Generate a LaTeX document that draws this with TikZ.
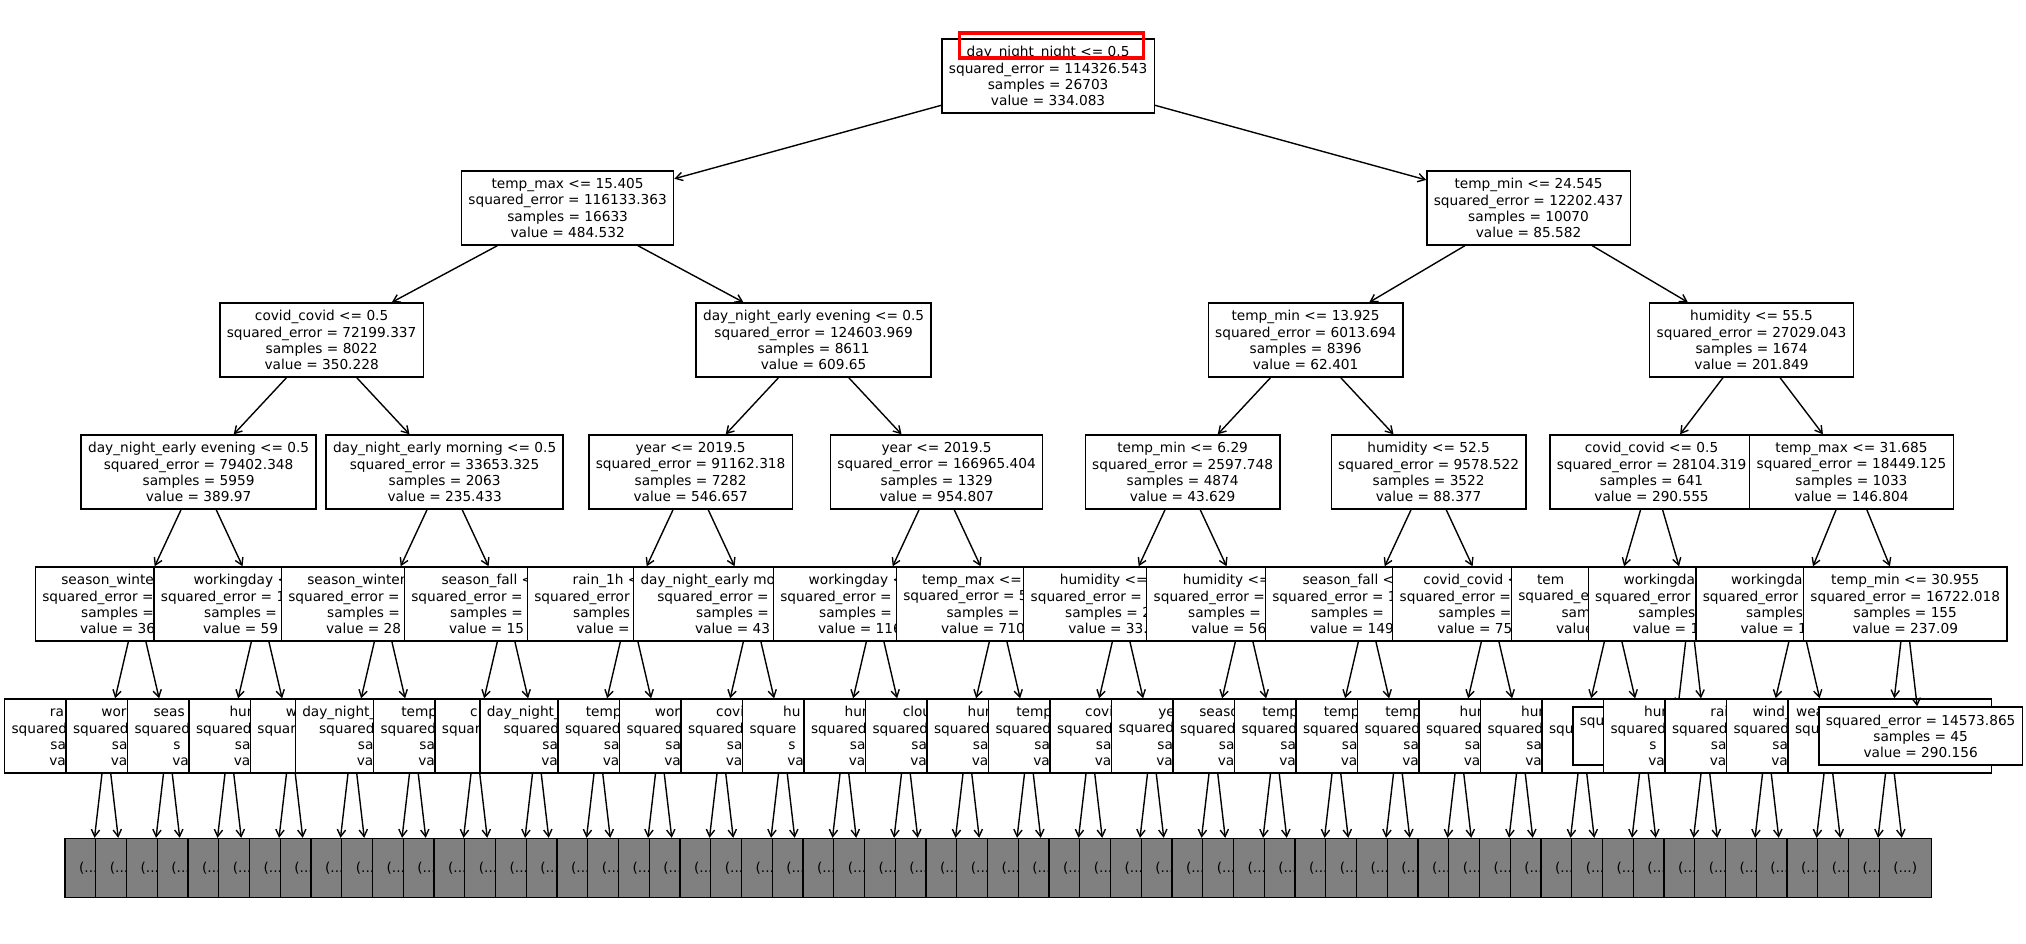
\documentclass[tikz,border=0pt]{standalone}
\usepackage{fontspec}
\setmainfont{DejaVu Sans}
\usetikzlibrary{calc,arrows.meta,backgrounds}
\newcommand{\hid}[1]{\phantom{#1}}

\begin{document}
\begin{tikzpicture}[x=0.72pt,y=-0.72pt,
  split/.style={draw=black,line width=1pt,fill=white,align=center,inner xsep=5pt,inner ysep=0pt,minimum height=53.3pt,font=\fontsize{9.86}{11.6}\selectfont},
  leaf/.style={split,minimum height=41.8pt},
  elided/.style={split,fill=gray,minimum width=37.4pt,minimum height=42.5pt,inner xsep=0pt},
  link/.style={-{Straight Barb[length=5pt,width=6pt]},line width=1pt},
  hl/.style={draw=red,line width=2.2pt}]
\useasboundingbox (0,0) rectangle (2026,944);

% pruned subtrees
\foreach \j in {1,...,60}
  \node[elided] (g\j) at ({91+30.75*(\j-1)},868) {(...)};

% depth 5
\node[split] (f1) at ($(g1)!.5!(g2)+(0,-132)$) {rai\hid{n\_1h <= 0.05}\\squared\hid{\_error = 00000.000}\\sa\hid{mples = 0000}\\va\hid{lue = 000.000}};
\node[split] (f2) at ($(g3)!.5!(g4)+(0,-132)$) {work\hid{ingday <= 0.5}\\squared\hid{\_error = 00000.000}\\sa\hid{mples = 0000}\\va\hid{lue = 000.000}};
\node[split] (f3) at ($(g5)!.5!(g6)+(0,-132)$) {seas\hid{on\_winter <= 0.5}\\squared\hid{\_error = 00000.000}\\s\hid{amples = 0000}\\va\hid{lue = 000.000}};
\node[split] (f4) at ($(g7)!.5!(g8)+(0,-132)$) {hum\hid{idity <= 00.5}\\squared\_\hid{error = 00000.000}\\sa\hid{mples = 0000}\\val\hid{ue = 000.000}};
\node[split] (f5) at ($(g9)!.5!(g10)+(0,-132)$) {wo\hid{rkingday <= 0.5}\\squar\hid{ed\_error = 00000.000}\\\hid{samples = 0000}\\v\hid{alue = 000.000}};
\node[split] (f6) at ($(g11)!.5!(g12)+(0,-132)$) {day\_night\_\hid{early morning <= 0.5}\\squared\_\hid{error = 00000.000}\\sa\hid{mples = 0000}\\val\hid{ue = 000.000}};
\node[split] (f7) at ($(g13)!.5!(g14)+(0,-132)$) {temp\hid{\_min <= 00.000}\\squared\hid{\_error = 00000.000}\\sa\hid{mples = 0000}\\va\hid{lue = 000.000}};
\node[split] (f8) at ($(g15)!.5!(g16)+(0,-132)$) {c\hid{ovid\_covid <= 0.5}\\squar\hid{ed\_error = 00000.000}\\\hid{samples = 0000}\\\hid{value = 000.000}};
\node[split] (f9) at ($(g17)!.5!(g18)+(0,-132)$) {day\_night\_\hid{early morning <= 0.5}\\squared\hid{\_error = 00000.000}\\sa\hid{mples = 0000}\\va\hid{lue = 000.000}};
\node[split] (f10) at ($(g19)!.5!(g20)+(0,-132)$) {temp\hid{\_min <= 00.000}\\squared\hid{\_error = 00000.000}\\sa\hid{mples = 0000}\\va\hid{lue = 000.000}};
\node[split] (f11) at ($(g21)!.5!(g22)+(0,-132)$) {wor\hid{kingday <= 0.5}\\squared\hid{\_error = 00000.000}\\sa\hid{mples = 0000}\\va\hid{lue = 000.000}};
\node[split] (f12) at ($(g23)!.5!(g24)+(0,-132)$) {covid\hid{\_covid <= 0.5}\\squared\_\hid{error = 00000.000}\\sa\hid{mples = 0000}\\val\hid{ue = 000.000}};
\node[split] (f13) at ($(g25)!.5!(g26)+(0,-132)$) {hu\hid{midity <= 00.5}\\square\hid{d\_error = 00000.000}\\s\hid{amples = 0000}\\va\hid{lue = 000.000}};
\node[split] (f14) at ($(g27)!.5!(g28)+(0,-132)$) {hum\hid{idity <= 00.5}\\squared\_\hid{error = 00000.000}\\sa\hid{mples = 0000}\\val\hid{ue = 000.000}};
\node[split] (f15) at ($(g29)!.5!(g30)+(0,-132)$) {clou\hid{ds\_all <= 00.5}\\squared\_\hid{error = 00000.000}\\sa\hid{mples = 0000}\\val\hid{ue = 000.000}};
\node[split] (f16) at ($(g31)!.5!(g32)+(0,-132)$) {hum\hid{idity <= 00.5}\\squared\hid{\_error = 00000.000}\\sa\hid{mples = 0000}\\val\hid{ue = 000.000}};
\node[split] (f17) at ($(g33)!.5!(g34)+(0,-132)$) {temp\hid{\_min <= 00.000}\\squared\hid{\_error = 00000.000}\\sa\hid{mples = 0000}\\va\hid{lue = 000.000}};
\node[split] (f18) at ($(g35)!.5!(g36)+(0,-132)$) {covid\_\hid{covid <= 0.5}\\squared\hid{\_error = 00000.000}\\sa\hid{mples = 0000}\\va\hid{lue = 000.000}};
\node[split] (f19) at ($(g37)!.5!(g38)+(0,-132)$) {yea\hid{r <= 2019.5}\\squared\hid{\_error = 00000.000}\\sa\hid{mples = 0000}\\va\hid{lue = 000.000}};
\node[split] (f20) at ($(g39)!.5!(g40)+(0,-132)$) {seaso\hid{n\_spring <= 0.5}\\squared\hid{\_error = 00000.000}\\sa\hid{mples = 0000}\\va\hid{lue = 000.000}};
\node[split] (f21) at ($(g41)!.5!(g42)+(0,-132)$) {temp\_\hid{min <= 00.000}\\squared\_\hid{error = 00000.000}\\sa\hid{mples = 0000}\\val\hid{ue = 000.000}};
\node[split] (f22) at ($(g43)!.5!(g44)+(0,-132)$) {temp\_\hid{min <= 00.000}\\squared\hid{\_error = 00000.000}\\sa\hid{mples = 0000}\\val\hid{ue = 000.000}};
\node[split] (f23) at ($(g45)!.5!(g46)+(0,-132)$) {temp\hid{\_min <= 00.000}\\squared\hid{\_error = 00000.000}\\sa\hid{mples = 0000}\\va\hid{lue = 000.000}};
\node[split] (f24) at ($(g47)!.5!(g48)+(0,-132)$) {hum\hid{idity <= 00.5}\\squared\hid{\_error = 00000.000}\\sa\hid{mples = 0000}\\va\hid{lue = 000.000}};
\node[split] (f25) at ($(g49)!.5!(g50)+(0,-132)$) {hum\hid{idity <= 00.5}\\squared\_\hid{error = 00000.000}\\sa\hid{mples = 0000}\\val\hid{ue = 000.000}};
\node[split] (f26) at ($(g51)!.5!(g52)+(0,-132)$) {\hid{temp\_min <= 00.000}\\squ\hid{ared\_error = 00000.000}\\\hid{samples = 0000}\\\hid{value = 000.000}};
\node[leaf] (f27) at ($(g53)+(-15.375,-132)$) {squ\hid{ared\_error = 00000.000}\\\hid{samples = 000}\\\hid{value = 000.000}};
\node[split] (f28) at ($(g53)!.5!(g54)+(0,-132)$) {hum\hid{idity <= 00.5}\\squared\hid{\_error = 00000.000}\\s\hid{amples = 0000}\\va\hid{lue = 000.000}};
\node[split] (f29) at ($(g55)!.5!(g56)+(0,-132)$) {rai\hid{n\_1h <= 0.05}\\squared\hid{\_error = 00000.000}\\sa\hid{mples = 0000}\\va\hid{lue = 000.000}};
\node[split] (f30) at ($(g57)!.5!(g58)+(0,-132)$) {wind\_\hid{speed <= 0.000}\\squared\hid{\_error = 00000.000}\\sa\hid{mples = 0000}\\va\hid{lue = 000.000}};
\node[split] (f31) at ($(g59)!.5!(g60)+(0,-132)$) {wea\hid{ther\_main\_Rain <= 0.5}\\squ\hid{ared\_error = 00000.000}\\\hid{samples = 0000}\\\hid{value = 000.000}};
\node[leaf] (f32) at ($(g60)+(15.375,-132)$) {squared\_error = 14573.865\\samples = 45\\value = 290.156};

% depth 4
\node[split] (e1) at ($(f1)!.5!(f2)+(0,-132)$) {season\_winte\hid{r <= 0.5}\\squared\_error =\hid{ 00000.000}\\samples =\hid{ 0000}\\value = 36\hid{0.000}};
\node[split] (e2) at ($(f3)!.5!(f4)+(0,-132)$) {workingday <\hid{= 0.5}\\squared\_error = 1\hid{00000.000}\\samples =\hid{ 0000}\\value = 59\hid{0.000}};
\node[split] (e3) at ($(f5)!.5!(f6)+(0,-132)$) {season\_winter\hid{ <= 0.5}\\squared\_error =\hid{ 00000.000}\\samples =\hid{ 0000}\\value = 28\hid{0.000}};
\node[split] (e4) at ($(f7)!.5!(f8)+(0,-132)$) {season\_fall <\hid{= 0.5}\\squared\_error =\hid{ 00000.000}\\samples =\hid{ 0000}\\value = 15\hid{0.000}};
\node[split] (e5) at ($(f9)!.5!(f10)+(0,-132)$) {rain\_1h <\hid{= 0.05}\\squared\_error\hid{ = 00000.000}\\samples\hid{ = 0000}\\value =\hid{ 00.000}};
\node[split] (e6) at ($(f11)!.5!(f12)+(0,-132)$) {day\_night\_early mo\hid{rning <= 0.5}\\squared\_error =\hid{ 00000.000}\\samples =\hid{ 0000}\\value = 43\hid{0.000}};
\node[split] (e7) at ($(f13)!.5!(f14)+(0,-132)$) {workingday <\hid{= 0.5}\\squared\_error =\hid{ 00000.000}\\samples =\hid{ 0000}\\value = 116\hid{.000}};
\node[split] (e8) at ($(f15)!.5!(f16)+(0,-132)$) {temp\_max <=\hid{ 00.000}\\squared\_error = 5\hid{0000.000}\\samples =\hid{ 000}\\value = 710\hid{.000}};
\node[split] (e9) at ($(f17)!.5!(f18)+(0,-132)$) {humidity <=\hid{ 00.0}\\squared\_error =\hid{ 0000.000}\\samples = 2\hid{000}\\value = 33.\hid{000}};
\node[split] (e10) at ($(f19)!.5!(f20)+(0,-132)$) {humidity <=\hid{ 00.0}\\squared\_error =\hid{ 0000.000}\\samples =\hid{ 0000}\\value = 56\hid{.000}};
\node[split] (e11) at ($(f21)!.5!(f22)+(0,-132)$) {season\_fall <\hid{= 0.5}\\squared\_error = 1\hid{0000.000}\\samples =\hid{ 0000}\\value = 149\hid{.000}};
\node[split] (e12) at ($(f23)!.5!(f24)+(0,-132)$) {covid\_covid <\hid{= 0.5}\\squared\_error =\hid{ 0000.000}\\samples =\hid{ 000}\\value = 75\hid{.000}};
\node[split] (e13) at ($(f25)!.5!(f26)+(0,-132)$) {tem\hid{p\_max <= 00.000}\\squared\_e\hid{rror = 00000.000}\\sam\hid{ples = 000}\\value\hid{ = 000.000}};
\node[split] (e14) at ($(f27)!.5!(f28)+(0,-132)$) {workingda\hid{y <= 0.5}\\squared\_error\hid{ = 00000.000}\\samples\hid{ = 000}\\value = 1\hid{00.000}};
\node[split] (e15) at ($(f29)!.5!(f30)+(0,-132)$) {workingda\hid{y <= 0.5}\\squared\_error\hid{ = 00000.000}\\samples\hid{ = 000}\\value = 1\hid{00.000}};
\node[split] (e16) at ($(f31)!.5!(f32)+(0,-132)$) {temp\_min <= 30.955\\squared\_error = 16722.018\\samples = 155\\value = 237.09};

% depth 3
\node[split] (d1) at ($(e1)!.5!(e2)+(0,-132)$) {day\_night\_early evening <= 0.5\\squared\_error = 79402.348\\samples = 5959\\value = 389.97};
\node[split] (d2) at ($(e3)!.5!(e4)+(0,-132)$) {day\_night\_early morning <= 0.5\\squared\_error = 33653.325\\samples = 2063\\value = 235.433};
\node[split] (d3) at ($(e5)!.5!(e6)+(0,-132)$) {year <= 2019.5\\squared\_error = 91162.318\\samples = 7282\\value = 546.657};
\node[split] (d4) at ($(e7)!.5!(e8)+(0,-132)$) {year <= 2019.5\\squared\_error = 166965.404\\samples = 1329\\value = 954.807};
\node[split] (d5) at ($(e9)!.5!(e10)+(0,-132)$) {temp\_min <= 6.29\\squared\_error = 2597.748\\samples = 4874\\value = 43.629};
\node[split] (d6) at ($(e11)!.5!(e12)+(0,-132)$) {humidity <= 52.5\\squared\_error = 9578.522\\samples = 3522\\value = 88.377};
\node[split] (d7) at ($(e13)!.5!(e14)+(0,-132)$) {covid\_covid <= 0.5\\squared\_error = 28104.319\\samples = 641\\value = 290.555};
\node[split] (d8) at ($(e15)!.5!(e16)+(0,-132)$) {temp\_max <= 31.685\\squared\_error = 18449.125\\samples = 1033\\value = 146.804};

% depth 2
\node[split] (c1) at ($(d1)!.5!(d2)+(0,-132)$) {covid\_covid <= 0.5\\squared\_error = 72199.337\\samples = 8022\\value = 350.228};
\node[split] (c2) at ($(d3)!.5!(d4)+(0,-132)$) {day\_night\_early evening <= 0.5\\squared\_error = 124603.969\\samples = 8611\\value = 609.65};
\node[split] (c3) at ($(d5)!.5!(d6)+(0,-132)$) {temp\_min <= 13.925\\squared\_error = 6013.694\\samples = 8396\\value = 62.401};
\node[split] (c4) at ($(d7)!.5!(d8)+(0,-132)$) {humidity <= 55.5\\squared\_error = 27029.043\\samples = 1674\\value = 201.849};

% depth 1 and root
\node[split] (b1) at ($(c1)!.5!(c2)+(0,-132)$) {temp\_max <= 15.405\\squared\_error = 116133.363\\samples = 16633\\value = 484.532};
\node[split] (b2) at ($(c3)!.5!(c4)+(0,-132)$) {temp\_min <= 24.545\\squared\_error = 12202.437\\samples = 10070\\value = 85.582};
\node[split] (a) at ($(b1)!.5!(b2)+(0,-132)$) {day\_night\_night <= 0.5\\squared\_error = 114326.543\\samples = 26703\\value = 334.083};

\draw[hl] ($(a)+(-88.5,-43)$) rectangle ($(a)+(95.5,-18)$);

% edges, behind the boxes
\begin{pgfonlayer}{background}
\fill[white] (0,0) rectangle (2026,944);
\draw[link] (a) -- (b1);
\draw[link] (a) -- (b2);
\foreach \i [evaluate=\i as \l using int(2*\i-1), evaluate=\i as \r using int(2*\i)] in {1,2}
  {\draw[link] (b\i) -- (c\l); \draw[link] (b\i) -- (c\r);}
\foreach \i [evaluate=\i as \l using int(2*\i-1), evaluate=\i as \r using int(2*\i)] in {1,...,4}
  {\draw[link] (c\i) -- (d\l); \draw[link] (c\i) -- (d\r);}
\foreach \i [evaluate=\i as \l using int(2*\i-1), evaluate=\i as \r using int(2*\i)] in {1,...,8}
  {\draw[link] (d\i) -- (e\l); \draw[link] (d\i) -- (e\r);}
\foreach \i [evaluate=\i as \l using int(2*\i-1), evaluate=\i as \r using int(2*\i)] in {1,...,15}
  {\draw[link] (e\i) -- (f\l); \draw[link] (e\i) -- (f\r);}
\draw[link] (e16) -- (f31);
\foreach \i [evaluate=\i as \l using int(2*\i-1), evaluate=\i as \r using int(2*\i)] in {1,...,26}
  {\draw[link] (f\i) -- (g\l); \draw[link] (f\i) -- (g\r);}
\foreach \i [evaluate=\i as \l using int(2*\i-3), evaluate=\i as \r using int(2*\i-2)] in {28,...,31}
  {\draw[link] (f\i) -- (g\l); \draw[link] (f\i) -- (g\r);}
\end{pgfonlayer}
\draw[link] (e16) -- (f32);
\end{tikzpicture}
\end{document}
